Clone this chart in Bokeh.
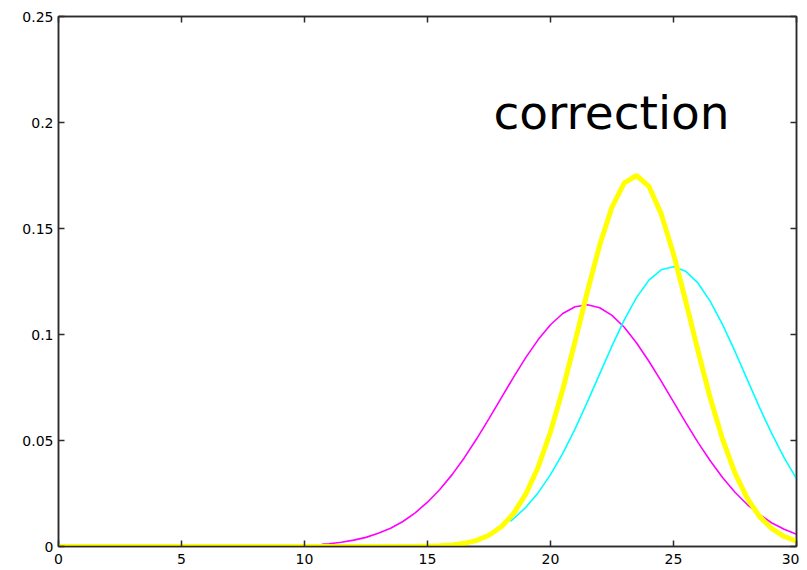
from bokeh.plotting import figure
from bokeh.models import LinearAxis, FixedTicker, Range1d, Label
from bokeh.embed import file_html
from bokeh.resources import INLINE

# ---- data ----
x_ticks = [0, 5, 10, 15, 20, 25, 30]
x_tick_labels = ["0", "5", "10", "15", "20", "25", "30"]
y_ticks = [0, 0.05, 0.1, 0.15, 0.2, 0.25]
y_tick_labels = ["0", "0.05", "0.1", "0.15", "0.2", "0.25"]

magenta_x = [10.7, 11, 11.5, 12, 12.5, 13, 13.5, 14, 14.5, 15, 15.5, 16, 16.5, 17, 17.5,
             18, 18.5, 19, 19.5, 20, 20.5, 21, 21.5, 22, 22.5, 23, 23.5, 24, 24.5, 25,
             25.5, 26, 26.5, 27, 27.5, 28, 28.5, 29, 29.5, 30]
magenta_y = [0.0010, 0.0013, 0.0020, 0.0030, 0.0043, 0.0062, 0.0086, 0.0118, 0.0159, 0.0209,
             0.0269, 0.0339, 0.0419, 0.0508, 0.0603, 0.0701, 0.0799, 0.0892, 0.0976, 0.1046,
             0.1099, 0.1131, 0.1140, 0.1126, 0.1090, 0.1034, 0.0960, 0.0874, 0.0780, 0.0682,
             0.0584, 0.0490, 0.0403, 0.0324, 0.0256, 0.0198, 0.0150, 0.0111, 0.0081, 0.0058]

cyan_x = [18.37, 18.5, 19, 19.5, 20, 20.5, 21, 21.5, 22, 22.5, 23, 23.5, 24, 24.5, 25,
          25.5, 26, 26.5, 27, 27.5, 28, 28.5, 29, 29.5, 30]
cyan_y = [0.0119, 0.0131, 0.0185, 0.0254, 0.0339, 0.0439, 0.0555, 0.0682, 0.0814, 0.0946,
          0.1069, 0.1175, 0.1256, 0.1305, 0.1320, 0.1298, 0.1242, 0.1155, 0.1045, 0.0920,
          0.0787, 0.0655, 0.0531, 0.0418, 0.0320]

yellow_x = [0, 13, 14, 14.5, 15, 15.5, 16, 16.5, 17, 17.5, 18, 18.5, 19, 19.5, 20, 20.5,
            21, 21.5, 22, 22.5, 23, 23.5, 24, 24.5, 25, 25.5, 26, 26.5, 27, 27.5, 28,
            28.5, 29, 29.5, 30]
yellow_y = [0.0, 0.0, 0.00003, 0.00006, 0.00015, 0.00034, 0.00073, 0.0015, 0.0029, 0.0053,
            0.0093, 0.0156, 0.0248, 0.0375, 0.0540, 0.0741, 0.0967, 0.1202, 0.1422, 0.1601,
            0.1715, 0.1750, 0.1699, 0.1569, 0.1380, 0.1156, 0.0921, 0.0698, 0.0504, 0.0346,
            0.0227, 0.0141, 0.0084, 0.0047, 0.0025]

label_text = "correction"
label_x = 17.68
label_y = 0.2045

# ---- figure ----
p = figure(width=799, height=570, output_backend="svg", toolbar_location=None,
           x_range=Range1d(0, 30), y_range=Range1d(0, 0.25),
           min_border_left=58, min_border_right=3, min_border_top=16, min_border_bottom=24,
           background_fill_color="white", border_fill_color="white")
p.grid.visible = False
p.outline_line_color = "#2b2b2b"
p.outline_line_width = 1.5

def style_axis(ax, ticks, labels, show_labels):
    ax.ticker = FixedTicker(ticks=ticks)
    ax.axis_line_color = "#2b2b2b"
    ax.axis_line_width = 1.5
    ax.major_tick_line_color = "#2b2b2b"
    ax.major_tick_line_width = 1.5
    ax.major_tick_in = 6
    ax.major_tick_out = 0
    ax.minor_tick_line_color = None
    ax.major_label_text_font = "DejaVu Sans"
    ax.major_label_text_font_size = "14px"
    ax.major_label_text_color = "black"
    if show_labels:
        ax.major_label_overrides = {t: l for t, l in zip(ticks, labels)}
    else:
        ax.major_label_overrides = {t: "" for t in ticks}
        ax.major_label_standoff = 0

style_axis(p.xaxis[0], x_ticks, x_tick_labels, True)
p.xaxis[0].major_label_standoff = 7
style_axis(p.yaxis[0], y_ticks, y_tick_labels, True)
p.yaxis[0].major_label_standoff = 5

top_axis = LinearAxis()
style_axis(top_axis, x_ticks, x_tick_labels, False)
p.add_layout(top_axis, "above")
right_axis = LinearAxis()
style_axis(right_axis, y_ticks, y_tick_labels, False)
p.add_layout(right_axis, "right")

p.line(magenta_x, magenta_y, line_color="#ff00ff", line_width=1.6)
p.line(cyan_x, cyan_y, line_color="#00ffff", line_width=1.6)
p.line(yellow_x, yellow_y, line_color="#ffff00", line_width=5)

p.add_layout(Label(x=label_x, y=label_y, text=label_text, text_font="DejaVu Sans",
                   text_font_size="47px", text_color="black",
                   text_align="left", text_baseline="alphabetic"))

open("out.html", "w").write(file_html(p, INLINE))
